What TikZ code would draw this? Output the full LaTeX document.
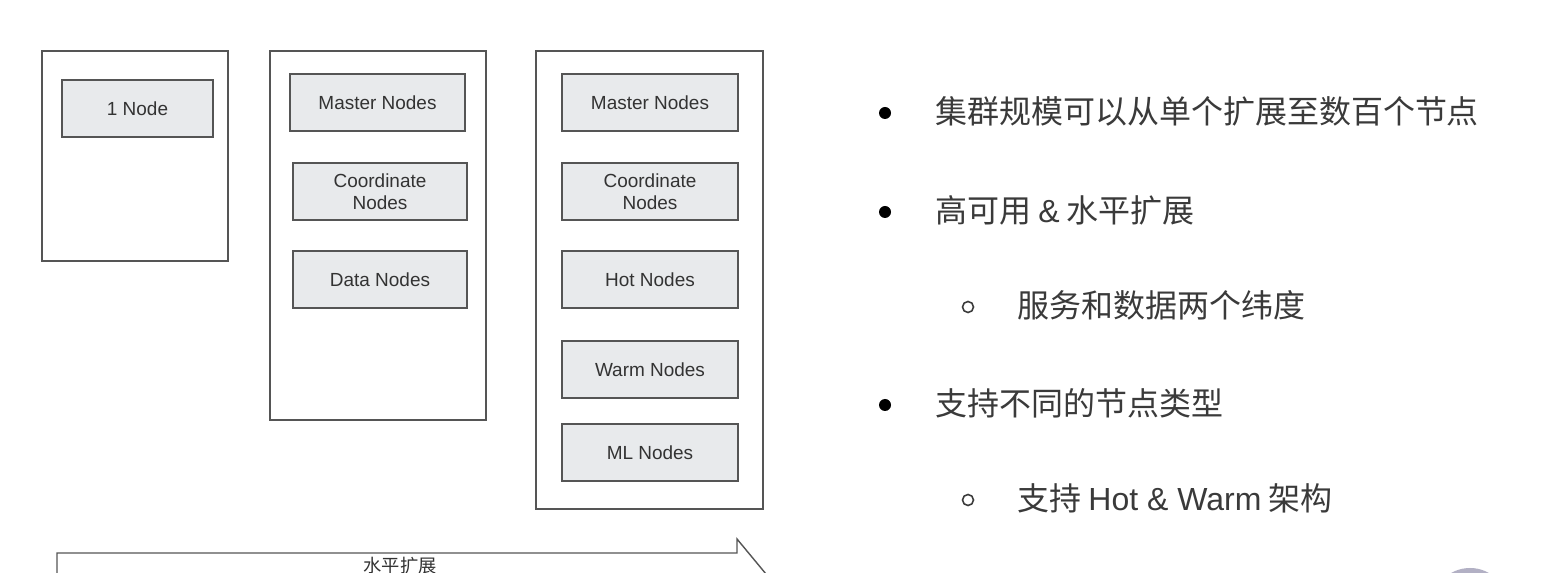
\documentclass[tikz,border=0pt]{standalone}
\usepackage{fontspec}
\setmainfont{Liberation Sans}
\newfontfamily\cjk{Noto Sans CJK SC}
\usepackage{tikz}
\usetikzlibrary{positioning}
\definecolor{framegray}{RGB}{85, 85, 85}
\definecolor{boxfill}{RGB}{232, 234, 236}
\definecolor{textgray}{RGB}{51, 51, 51}
\definecolor{pointgray}{RGB}{58, 58, 58}
\definecolor{blobgray}{RGB}{178, 176, 196}

\newcommand{\latinrun}[1]{{\rmfamily #1}}

\tikzset{
  tierframe/.style={draw=framegray, line width=0.7pt, fill=white, inner sep=0pt},
  rolebox/.style={draw=framegray, line width=0.7pt, fill=boxfill, minimum width=3.5cm, minimum height=1.14cm,
    align=center, inner sep=0pt, text=textgray, font=\fontsize{10.8}{12.5}\selectfont},
  dotmark/.style={circle, fill=black, minimum size=0.24cm, inner sep=0pt},
  ringmark/.style={circle, draw=pointgray, line width=0.9pt, minimum size=0.22cm, inner sep=0pt},
  pointtext/.style={anchor=west, inner sep=0pt, text=pointgray, font=\cjk\fontsize{18.2}{22}\selectfont}
}

\begin{document}
\begin{tikzpicture}[x=0.02cm, y=-0.02cm]
  \useasboundingbox[fill=white] (0,0) rectangle (1552,573);
  \clip (0,0) rectangle (1552,573);

  % single node
  \node[tierframe, minimum width=3.72cm, minimum height=4.2cm] (tier1) at (135,156) {};
  \node[rolebox, minimum width=3.02cm] (one) at (137.5,108.5) {1 Node};

  % small cluster
  \node[tierframe, minimum width=4.32cm, minimum height=7.38cm] (tier2) at (378,235.5) {};
  \node[rolebox] (master2) at (377.5,102.5) {Master Nodes};
  \node[rolebox, minimum width=3.48cm] (coord2) at (380,191.5) {Coordinate\\Nodes};
  \node[rolebox, minimum width=3.48cm] (data2) at (380,279.5) {Data Nodes};

  % large cluster
  \node[tierframe, minimum width=4.54cm, minimum height=9.16cm] (tier3) at (649.5,280) {};
  \node[rolebox, minimum width=3.52cm] (master3) at (650,102.5) {Master Nodes};
  \node[rolebox, minimum width=3.52cm] (coord3) at (650,191.5) {Coordinate\\Nodes};
  \node[rolebox, minimum width=3.52cm] (hot3) at (650,279.5) {Hot Nodes};
  \node[rolebox, minimum width=3.52cm] (warm3) at (650,369.5) {Warm Nodes};
  \node[rolebox, minimum width=3.52cm] (ml3) at (650,452.5) {ML Nodes};

  % scale-out arrow
  \draw[framegray, line width=0.8pt, line join=miter] (57,590) -- (57,553) -- (737,553) -- (737,539) -- (766,574);
  \node[text=textgray, font=\cjk\fontsize{10.4}{12}\selectfont] (grow) at (400,566) {水平扩展};

  % key points
  \node[dotmark] (p1) at (885,113) {};
  \node[pointtext] (t1) at (935,111) {集群规模可以从单个扩展至数百个节点};
  \node[dotmark] (p2) at (885,212) {};
  \node[pointtext] (t2) at (935,210) {高可用 \latinrun{\&} 水平扩展};
  \node[ringmark] (p3) at (968,307) {};
  \node[pointtext] (t3) at (1017,305) {服务和数据两个纬度};
  \node[dotmark] (p4) at (885,405) {};
  \node[pointtext] (t4) at (935,403) {支持不同的节点类型};
  \node[ringmark] (p5) at (968,500) {};
  \node[pointtext] (t5) at (1017,498) {支持 \latinrun{Hot \& Warm} 架构};

  \fill[blobgray] (1470,606) circle (38);
\end{tikzpicture}
\end{document}
